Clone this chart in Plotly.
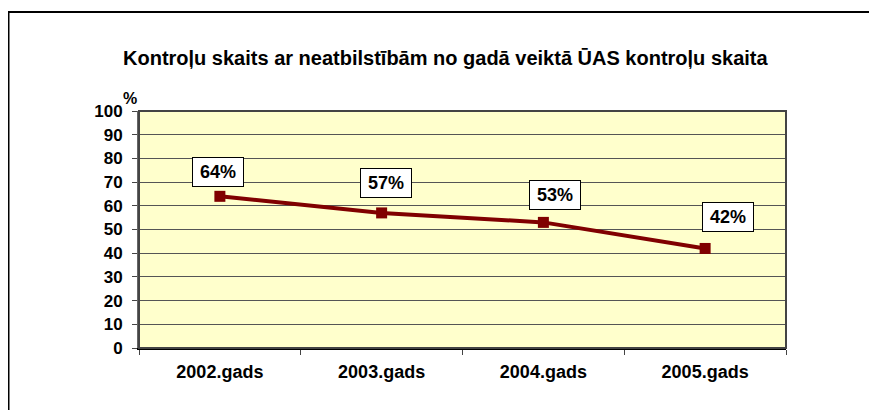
import plotly.graph_objects as go

categories = ["2002.gads", "2003.gads", "2004.gads", "2005.gads"]
values = [64, 57, 53, 42]
label_texts = ["64%", "57%", "53%", "42%"]
title_text = "Kontroļu skaits ar neatbilstībām no gadā veiktā ŪAS kontroļu skaita"
y_unit = "%"
y_ticks = list(range(0, 101, 10))

# label offsets (pixels) relative to each point
label_dx = [-2, 4, 12, 23]
label_dy = [24, 30, 27, 31]

W, H = 877, 410
OFF = 8  # page offset of the figure inside the browser page
# plot area in page pixels
PX0, PX1, PY0, PY1 = 139, 786, 111, 348
pw, ph = PX1 - PX0, PY1 - PY0
L, T = PX0 - OFF, PY0 - OFF
R, B = W - L - pw, H - T - ph


def px(x):
    return (x - PX0) / pw


def py(y):
    return (PY1 - y) / ph


font = "Liberation Sans, Arial, sans-serif"

fig = go.Figure()
fig.add_trace(go.Scatter(
    x=categories, y=values, mode="lines+markers",
    line=dict(color="#800000", width=4),
    marker=dict(symbol="square", size=11, color="#800000"),
    hoverinfo="skip", showlegend=False,
))

for c, v, t, dx, dy in zip(categories, values, label_texts, label_dx, label_dy):
    fig.add_annotation(
        x=c, y=v, xref="x", yref="y", text="<b>%s</b>" % t, showarrow=False,
        xshift=dx, yshift=dy, bgcolor="white", bordercolor="black", borderwidth=1,
        borderpad=3, width=44, height=22,
        font=dict(family=font, size=18, color="black"),
    )

fig.add_annotation(
    x=px(121), y=py(88), xref="paper", yref="paper",
    text="<b>%s</b>" % y_unit, showarrow=False,
    font=dict(family=font, size=16, color="black"),
)

fig.add_annotation(
    x=px(445), y=py(45), xref="paper", yref="paper",
    text="<b>%s</b>" % title_text, showarrow=False,
    font=dict(family=font, size=20, color="black"),
)

# outer frame
fig.add_shape(type="rect", xref="paper", yref="paper",
              x0=px(8.5), x1=px(W + 30), y0=py(H + 30), y1=py(12),
              line=dict(color="black", width=2), layer="below")
# plot area border
fig.add_shape(type="rect", xref="paper", yref="paper", x0=0, x1=1, y0=0, y1=1,
              line=dict(color="#444", width=2), layer="above")

fig.update_layout(
    width=W, height=H,
    margin=dict(l=L, r=R, t=T, b=B),
    paper_bgcolor="white", plot_bgcolor="#FFFFCC",
    font=dict(family=font, size=17, color="black"),
    xaxis=dict(
        type="category", tickson="boundaries", ticks="outside", ticklen=5,
        tickcolor="#444", showgrid=False, showline=True, linecolor="black", linewidth=2,
        tickfont=dict(family=font, size=18, color="black"),
        ticklabelstandoff=6, range=[-0.5, 3.5],
        tickvals=categories, ticktext=["<b>%s</b>" % c for c in categories],
    ),
    yaxis=dict(
        range=[0, 100], ticks="outside", ticklen=5, tickcolor="#444",
        showgrid=True, gridcolor="#555", gridwidth=1, showline=True,
        linecolor="#666", linewidth=2, zeroline=False,
        tickfont=dict(family=font, size=17, color="black"),
        ticklabelstandoff=6,
        tickvals=y_ticks, ticktext=["<b>%d</b>" % v for v in y_ticks],
    ),
)

fig.write_html("out.html")
